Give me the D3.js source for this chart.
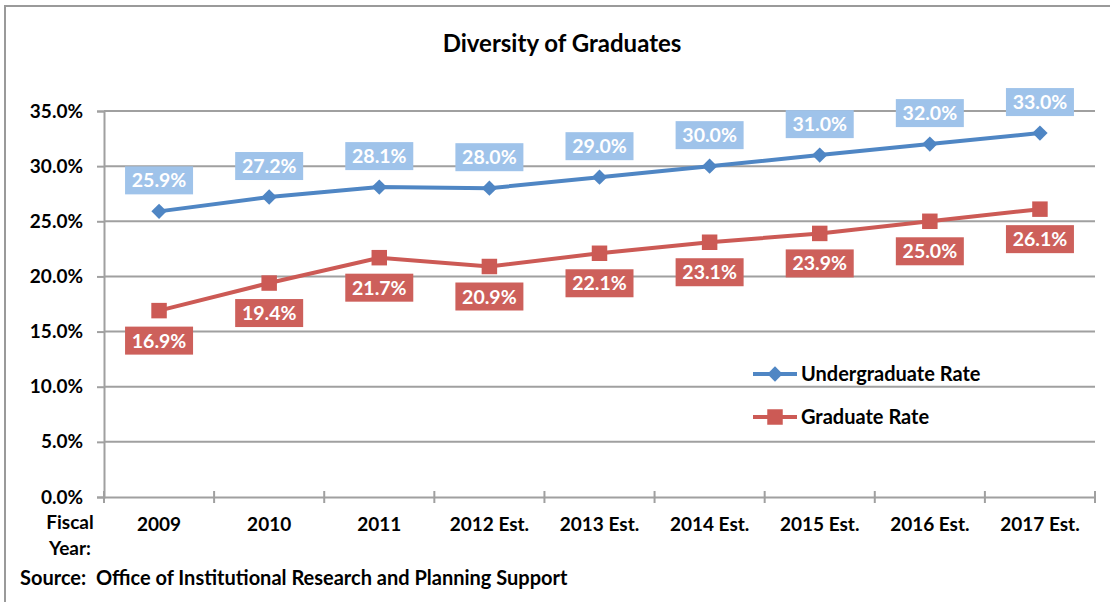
<!DOCTYPE html>
<html>
<head>
<meta charset="utf-8">
<script src="https://cdn.jsdelivr.net/npm/d3@7"></script>
<style>
  body { margin: 0; background: #fff; }
  svg text { font-family: Lato, "Liberation Sans", sans-serif; font-weight: bold; }
</style>
</head>
<body>
<svg id="chart" width="1110" height="602"></svg>
<script>
// chart data
const years = ['2009', '2010', '2011', '2012 Est.', '2013 Est.', '2014 Est.', '2015 Est.', '2016 Est.', '2017 Est.'];
const undergradRate = [25.9, 27.2, 28.1, 28.0, 29.0, 30.0, 31.0, 32.0, 33.0];
const gradRate = [16.9, 19.4, 21.7, 20.9, 22.1, 23.1, 23.9, 25.0, 26.1];
const yTicks = [0, 5, 10, 15, 20, 25, 30, 35];

const svg = d3.select('#chart');

// outer frame (runs off right/bottom like the screenshot)
svg.append('rect')
    .attr('x', 5).attr('y', 6)
    .attr('width', 1120).attr('height', 620)
    .attr('fill', 'none')
    .attr('stroke', '#9a9a9a')
    .attr('stroke-width', 2);

const margin = { left: 104, right: 1095, top: 111, bottom: 497 };

const x = d3.scaleBand()
    .domain(years)
    .range([margin.left, margin.right]);

const y = d3.scaleLinear()
    .domain([0, 35])
    .range([margin.bottom, margin.top]);

// gridlines
svg.append('g')
    .selectAll('line')
    .data(yTicks.filter(d => d > 0))
    .enter().append('line')
    .attr('x1', margin.left).attr('x2', margin.right)
    .attr('y1', d => y(d)).attr('y2', d => y(d))
    .attr('stroke', '#a0a0a0')
    .attr('stroke-width', 2);

// y axis
const yAxis = svg.append('g')
    .attr('transform', `translate(${margin.left},0)`)
    .call(d3.axisLeft(y).tickValues(yTicks).tickSize(7).tickPadding(14)
        .tickFormat(d => d.toFixed(1) + '%'));
yAxis.select('.domain').attr('stroke', '#a0a0a0').attr('stroke-width', 2);
yAxis.selectAll('.tick line').attr('stroke', '#a0a0a0').attr('stroke-width', 2);
yAxis.selectAll('.tick text').attr('font-size', 19).attr('fill', '#000')
    .style('font-family', 'Lato, sans-serif');

// x axis
const xAxis = svg.append('g')
    .attr('transform', `translate(0,${margin.bottom})`)
    .call(d3.axisBottom(x).tickSize(0).tickPadding(21));
xAxis.select('.domain').attr('stroke', '#a0a0a0').attr('stroke-width', 2);
xAxis.selectAll('.tick text').attr('font-size', 19).attr('fill', '#000')
    .style('font-family', 'Lato, sans-serif');

// x tick marks between categories
const bounds = years.map(d => x(d)).concat([margin.right]);
svg.append('g')
    .selectAll('line')
    .data(bounds)
    .enter().append('line')
    .attr('x1', d => d).attr('x2', d => d)
    .attr('y1', margin.bottom - 6).attr('y2', margin.bottom + 6)
    .attr('stroke', '#a0a0a0')
    .attr('stroke-width', 2);

const cx = d => x(d) + x.bandwidth() / 2;

// title
svg.append('text')
    .attr('x', 562).attr('y', 52)
    .attr('text-anchor', 'middle')
    .attr('font-size', 24)
    .text('Diversity of Graduates');

// series
const series = [
    { name: 'Undergraduate Rate', values: undergradRate, line: '#4f86c4', box: '#9fc3ea', marker: 'diamond', dy: -31 },
    { name: 'Graduate Rate', values: gradRate, line: '#cc5a55', box: '#cd605b', marker: 'square', dy: 30 }
];

const line = d3.line().x(d => cx(d.year)).y(d => y(d.v));

function markerPath(type) {
    return type === 'diamond'
        ? d3.symbol().type(d3.symbolDiamond2 || d3.symbolDiamond).size(150)
        : d3.symbol().type(d3.symbolSquare).size(240);
}

series.forEach(s => {
    const pts = years.map((yr, i) => ({ year: yr, v: s.values[i] }));

    svg.append('path')
        .datum(pts)
        .attr('d', line)
        .attr('fill', 'none')
        .attr('stroke', s.line)
        .attr('stroke-width', 4);

    svg.append('g').selectAll('path')
        .data(pts)
        .enter().append('path')
        .attr('d', markerPath(s.marker))
        .attr('transform', d => `translate(${cx(d.year)},${y(d.v)})`)
        .attr('fill', s.line);

    // data labels
    const lab = svg.append('g').selectAll('g')
        .data(pts)
        .enter().append('g')
        .attr('transform', d => `translate(${cx(d.year)},${y(d.v) + s.dy})`);
    lab.append('rect')
        .attr('x', -34).attr('y', -14)
        .attr('width', 68).attr('height', 28)
        .attr('fill', s.box);
    lab.append('text')
        .attr('text-anchor', 'middle')
        .attr('dy', '0.36em')
        .attr('font-size', 19.5)
        .attr('fill', '#fff')
        .text(d => d.v.toFixed(1) + '%');
});

// legend
const legend = svg.append('g');
series.forEach((s, i) => {
    const ly = 374 + i * 43;
    legend.append('line')
        .attr('x1', 753).attr('x2', 797)
        .attr('y1', ly).attr('y2', ly)
        .attr('stroke', s.line).attr('stroke-width', 4);
    legend.append('path')
        .attr('d', markerPath(s.marker))
        .attr('transform', `translate(775,${ly})`)
        .attr('fill', s.line);
    legend.append('text')
        .attr('x', 801).attr('y', ly)
        .attr('dy', '0.36em')
        .attr('font-size', 20)
        .text(s.name);
});

// fiscal year label & source
svg.append('text').attr('x', 70).attr('y', 529).attr('text-anchor', 'middle')
    .attr('font-size', 19).text('Fiscal');
svg.append('text').attr('x', 70).attr('y', 555).attr('text-anchor', 'middle')
    .attr('font-size', 19).text('Year:');
svg.append('text').attr('x', 20).attr('y', 585)
    .attr('font-size', 20).attr('xml:space', 'preserve')
    .text('Source:  Office of Institutional Research and Planning Support');
</script>
</body>
</html>
